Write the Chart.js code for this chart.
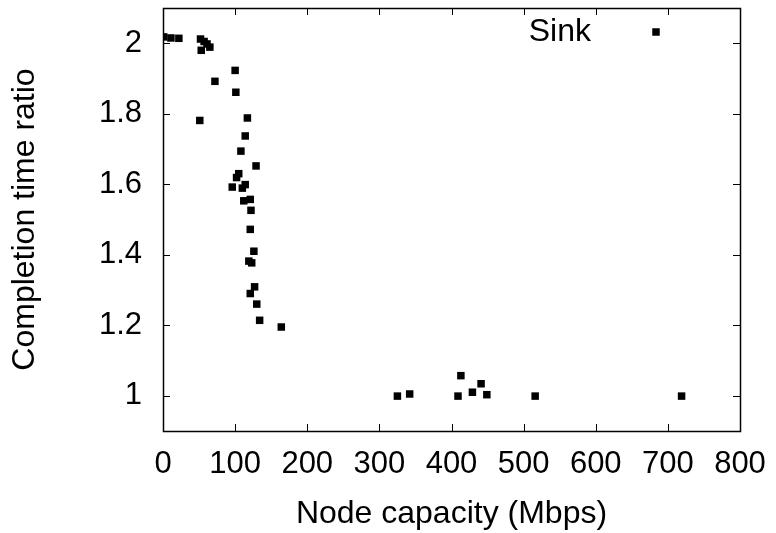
<!DOCTYPE html>
<html>
<head>
<meta charset="utf-8">
<script src="https://cdn.jsdelivr.net/npm/chart.js@4.4.0/dist/chart.umd.min.js"></script>
<style>
html,body{margin:0;padding:0;background:#fff;}
#wrap{width:776px;height:533px;}
</style>
</head>
<body>
<div id="wrap"><canvas id="c" width="776" height="533"></canvas></div>
<script>
// Node capacity (Mbps)
const capacity = [1, 11, 22, 52, 57, 61, 65, 53,
  100, 72, 101, 51, 117, 114, 108, 129, 105, 102, 96, 114, 110, 121, 112, 122,
  121, 126, 119, 123, 127, 121, 130, 134, 164,
  325, 342, 413, 409, 429, 441, 449, 516, 719];
// Completion time ratio
const ratio = [2.018, 2.015, 2.014, 2.012, 2.005, 1.998, 1.989, 1.980,
  1.923, 1.892, 1.861, 1.781, 1.788, 1.737, 1.694, 1.652, 1.630, 1.619, 1.592, 1.599, 1.589, 1.557, 1.553, 1.526,
  1.472, 1.410, 1.382, 1.377, 1.309, 1.290, 1.260, 1.214, 1.195,
  0.999, 1.005, 1.057, 0.999, 1.010, 1.034, 1.003, 0.999, 0.999];
const seriesName = 'Sink';
const xTickValues = [0, 100, 200, 300, 400, 500, 600, 700, 800];
const yTickValues = [1, 1.2, 1.4, 1.6, 1.8, 2];
const xTitle = 'Node capacity (Mbps)';
const yTitle = 'Completion time ratio';

const FONT = "'Liberation Sans', Arial, Helvetica, sans-serif";
const points = capacity.map((x, i) => ({x: x, y: ratio[i]}));

const framePlugin = {
  id: 'frame',
  afterDraw(chart) {
    const ctx = chart.ctx;
    const a = chart.chartArea;
    const xs = chart.scales.x, ys = chart.scales.y;
    const TL = 7;
    ctx.save();
    ctx.strokeStyle = '#000';
    ctx.lineWidth = 1;
    ctx.beginPath();
    xs.ticks.forEach(t => {
      const px = Math.round(xs.getPixelForValue(t.value)) + 0.5;
      ctx.moveTo(px, a.bottom); ctx.lineTo(px, a.bottom - TL);
      ctx.moveTo(px, a.top); ctx.lineTo(px, a.top + TL);
    });
    ys.ticks.forEach(t => {
      const py = Math.round(ys.getPixelForValue(t.value)) + 0.5;
      ctx.moveTo(a.left, py); ctx.lineTo(a.left + TL, py);
      ctx.moveTo(a.right, py); ctx.lineTo(a.right - TL, py);
    });
    ctx.stroke();
    ctx.lineWidth = 1.5;
    ctx.strokeRect(Math.round(a.left) + 0.5, Math.round(a.top) + 0.5,
      Math.round(a.right - a.left), Math.round(a.bottom - a.top));
    // key (gnuplot-style: text then sample)
    const ds = chart.data.datasets[0];
    ctx.font = "32px " + FONT;
    ctx.fillStyle = '#000';
    ctx.textAlign = 'right';
    ctx.textBaseline = 'middle';
    const ky = a.top + 24;
    ctx.fillText(ds.label, a.right - 149, ky);
    const s = ds.pointRadius * Math.SQRT1_2;
    ctx.fillStyle = ds.backgroundColor;
    ctx.fillRect(a.right - 84 - s, ky - s, 2 * s, 2 * s);
    ctx.restore();
  }
};

new Chart(document.getElementById('c'), {
  type: 'scatter',
  data: {
    datasets: [{
      label: seriesName,
      data: points,
      pointStyle: 'rect',
      pointRadius: 5.3,
      pointHoverRadius: 5.3,
      borderWidth: 0,
      backgroundColor: '#000',
      borderColor: '#000'
    }]
  },
  options: {
    responsive: false,
    animation: false,
    devicePixelRatio: 1,
    layout: {padding: {left: 0, top: 8, right: 36, bottom: 0}},
    plugins: {legend: {display: false}, tooltip: {enabled: false}},
    scales: {
      x: {
        type: 'linear',
        min: 0, max: 800,
        afterBuildTicks: s => { s.ticks = xTickValues.map(v => ({value: v})); },
        afterFit: s => { s.height = 102; s.paddingLeft = 0; s.paddingRight = 0; s.paddingTop = 0; s.paddingBottom = 0; },
        grid: {display: false, drawTicks: false},
        border: {display: false},
        ticks: {
          color: '#000', padding: 15, maxRotation: 0, autoSkip: false,
          font: {family: FONT, size: 31, lineHeight: 1.2},
          callback: v => String(v)
        },
        title: {
          display: true, text: xTitle, color: '#000',
          font: {family: FONT, size: 32, lineHeight: 1.2},
          padding: {top: 0, bottom: 0}
        }
      },
      y: {
        type: 'linear',
        min: 0.9, max: 2.1,
        afterBuildTicks: s => { s.ticks = yTickValues.map(v => ({value: v})); },
        afterFit: s => { s.width = 163; s.paddingLeft = 0; s.paddingRight = 0; s.paddingTop = 0; s.paddingBottom = 0; },
        grid: {display: false, drawTicks: false},
        border: {display: false},
        ticks: {
          color: '#000', padding: 21, autoSkip: false,
          font: {family: FONT, size: 31, lineHeight: 1.2},
          callback: v => String(+(+v).toFixed(1))
        },
        title: {
          display: true, text: yTitle, color: '#000',
          font: {family: FONT, size: 32, lineHeight: 1.2},
          padding: {top: 6, bottom: 0}
        }
      }
    }
  },
  plugins: [framePlugin, {
    id: 'bg',
    beforeDraw(chart) {
      const ctx = chart.ctx;
      ctx.save(); ctx.fillStyle = '#fff';
      ctx.fillRect(0, 0, chart.width, chart.height); ctx.restore();
    }
  }]
});
</script>
</body>
</html>
